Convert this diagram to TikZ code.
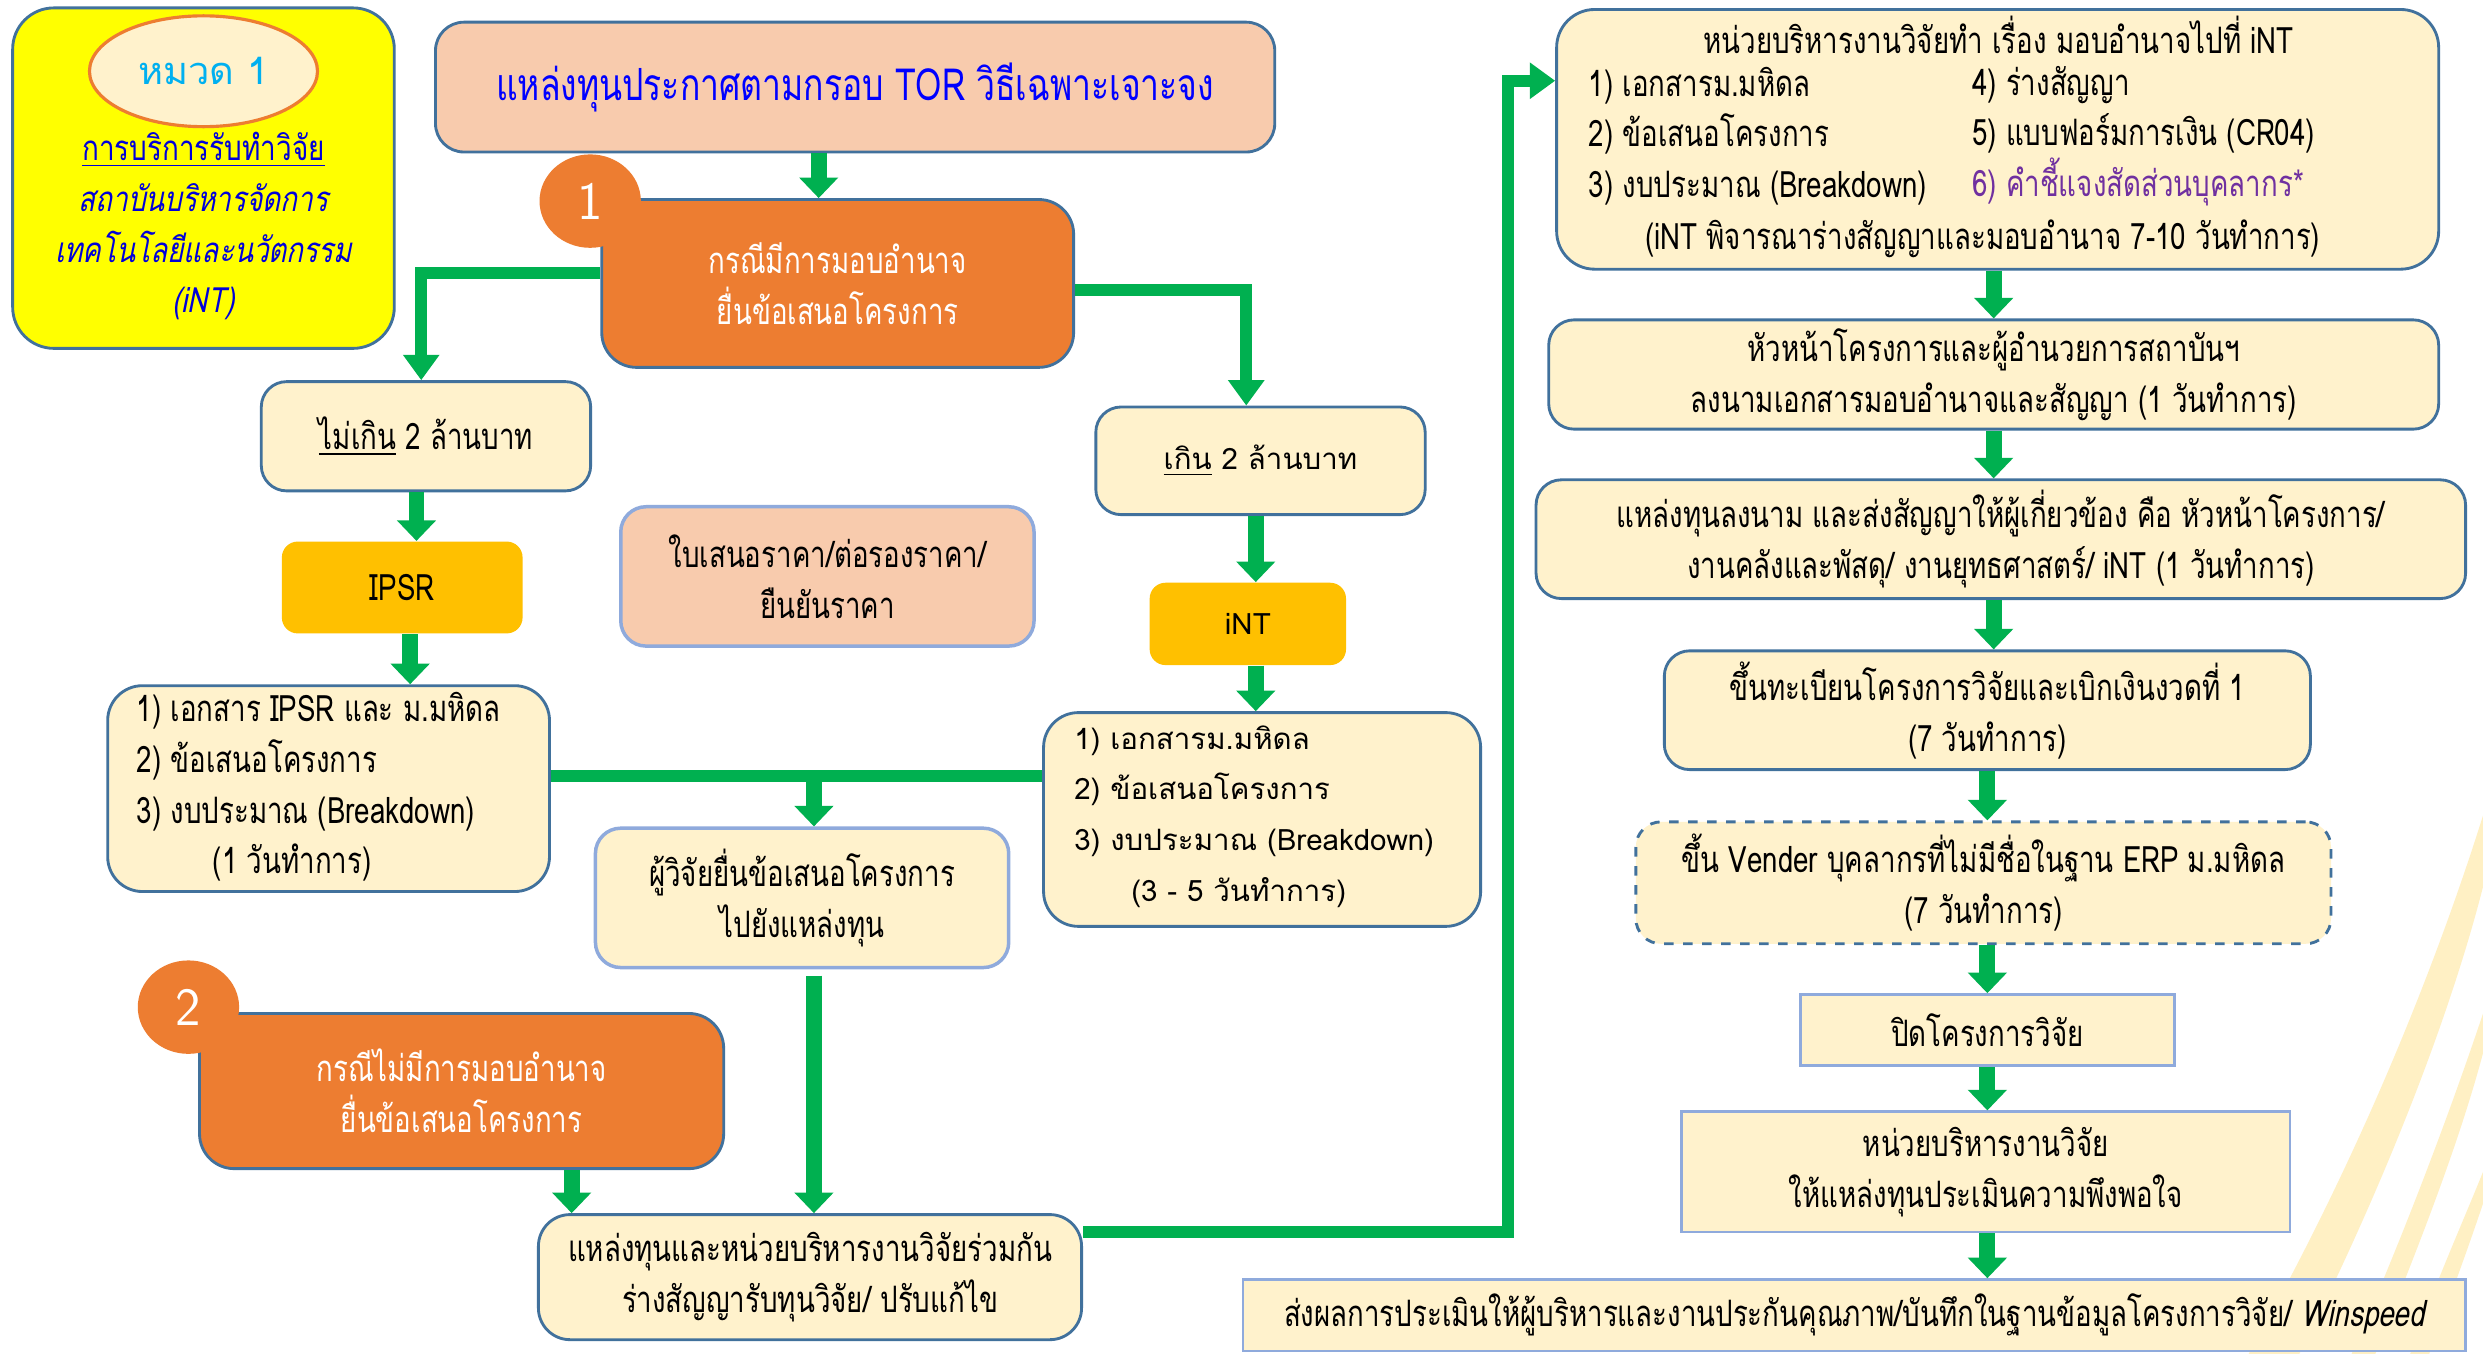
\documentclass[tikz,border=0pt]{standalone}
\usepackage{fontspec}
\setmainfont[Script=Thai]{Loma}
\newfontfamily\thaicn[Script=Thai,FakeStretch=0.76]{Loma}
\newfontfamily\thaicnit[Script=Thai,FakeStretch=0.76,FakeSlant=0.2]{Loma}
\newfontfamily\thaiit[Script=Thai,FakeStretch=0.8,FakeSlant=0.2]{Loma}
\newfontfamily\thaicat[Script=Thai,FakeStretch=0.8]{Loma}
\usetikzlibrary{shapes.geometric, arrows.meta, positioning, calc}

\definecolor{cream}{HTML}{FFF2CC}
\definecolor{peach}{HTML}{F8CBAD}
\definecolor{edge}{HTML}{41719C}
\definecolor{softedge}{HTML}{8FAADC}
\definecolor{caseorange}{HTML}{ED7D31}
\definecolor{gold}{HTML}{FFC000}
\definecolor{flowgreen}{HTML}{00B050}
\definecolor{catyellow}{HTML}{FFFF00}
\definecolor{catcyan}{HTML}{00B0F0}
\definecolor{titleblue}{HTML}{0000FF}
\definecolor{noteviolet}{HTML}{7030A0}
\definecolor{deco}{HTML}{FFF0C4}

\tikzset{
  txt/.style={font=\thaicn\fontsize{11.5}{16}\selectfont},
  wide/.style={font=\fontsize{9.3}{16}\selectfont},
  card/.style={draw=edge, line width=0.9pt, fill=cream, rounded corners=8pt,
    align=center, inner sep=0pt, txt},
  softcard/.style={card, draw=softedge, line width=1.1pt},
  plaincard/.style={draw=softedge, line width=0.8pt, fill=cream, align=center,
    inner sep=0pt, txt},
  casebox/.style={card, fill=caseorange, text=white, rounded corners=11pt},
  casenum/.style={ellipse, fill=caseorange, text=white, inner sep=0pt,
    minimum width=32pt, minimum height=29.5pt,
    font=\sffamily\fontsize{17}{17}\selectfont},
  unitbox/.style={fill=gold, rounded corners=5pt, align=center, inner sep=0pt},
  flow/.style={draw=flowgreen, line width=5pt, -{Triangle[width=12pt,length=6.5pt]}},
  link/.style={draw=flowgreen, line width=3.8pt, -{Triangle[width=11pt,length=8pt]}}
}

\begin{document}
\begin{tikzpicture}[x=0.5pt,y=-0.5pt]
\useasboundingbox (0,0) rectangle (1568,855);
\fill[white] (0,0) rectangle (1568,855);
% Background stripes
\fill[deco] (1420,855) .. controls (1485,740) and (1535,620) .. (1568,515)
  -- (1568,560) .. controls (1545,650) and (1500,760) .. (1452,855) -- cycle;
\fill[deco] (1485,855) .. controls (1518,780) and (1548,700) .. (1568,640)
  -- (1568,665) .. controls (1552,725) and (1526,790) .. (1500,855) -- cycle;
\fill[deco] (1522,855) .. controls (1538,810) and (1556,770) .. (1568,740)
  -- (1568,760) .. controls (1558,790) and (1545,825) .. (1534,855) -- cycle;

% Category card
\node[card, fill=catyellow, rounded corners=13pt, minimum width=120.5pt, minimum height=107.5pt] (cat) at (128.5,112.5) {};
\node[ellipse, draw=caseorange, line width=1pt, fill=cream, minimum width=72pt, minimum height=35pt,
  text=catcyan, font=\fontsize{12}{16}\selectfont] (catlbl) at (128.5,45) {หมวด 1};
\node[align=center, text=titleblue!85!black, font=\thaicat\fontsize{11}{16}\selectfont] (cattxt) at (128.5,143)
  {\underline{การบริการรับทำวิจัย}\\ {\thaiit สถาบันบริหารจัดการ}\\ {\thaiit เทคโนโลยีและนวัตกรรม}\\ {\thaiit (iNT)}};

% Left half
\node[card, fill=peach, rounded corners=9pt, minimum width=265pt, minimum height=41pt, text=titleblue,
  font=\thaicn\fontsize{14}{16}\selectfont] (src) at (540,55) {แหล่งทุนประกาศตามกรอบ TOR วิธีเฉพาะเจาะจง};
\node[casebox, minimum width=149pt, minimum height=53pt] (case1) at (529,179) {กรณีมีการมอบอำนาจ\\ยื่นข้อเสนอโครงการ};
\node[casenum] (c1) at (372.7,127) {1};

\node[card, minimum width=104pt, minimum height=34.5pt] (below) at (269,275.5) {\underline{ไม่เกิน} 2 ล้านบาท};
\node[unitbox, minimum width=76pt, minimum height=29pt, txt] (ipsr) at (254,371) {IPSR};
\node[card, rounded corners=11pt, minimum width=139.5pt, minimum height=65pt] (ipsrdoc) at (207.5,498) {};
\node[txt, anchor=west, align=left, inner sep=0pt] (ipsrtxt) at (86,497)
  {1) เอกสาร IPSR และ ม.มหิดล\\2) ข้อเสนอโครงการ\\3) งบประมาณ (Breakdown)\\\hspace*{24pt}(1 วันทำการ)};

\node[softcard, fill=peach, minimum width=130.5pt, minimum height=44pt] (quote) at (522.5,364) {ใบเสนอราคา/ต่อรองราคา/\\ยืนยันราคา};

\node[card, wide, minimum width=104pt, minimum height=34pt] (above) at (796,291) {\underline{เกิน} 2 ล้านบาท};
\node[unitbox, wide, minimum width=62pt, minimum height=26pt] (int) at (788,394) {iNT};
\node[card, rounded corners=11pt, minimum width=138pt, minimum height=67.5pt] (intdoc) at (797,517.5) {};
\node[wide, anchor=west, align=left, inner sep=0pt] (inttxt) at (678,515.5)
  {1) เอกสารม.มหิดล\\2) ข้อเสนอโครงการ\\3) งบประมาณ (Breakdown)\\\hspace*{18pt}(3 - 5 วันทำการ)};

\node[softcard, minimum width=130.5pt, minimum height=44pt] (submit) at (506.5,567) {ผู้วิจัยยื่นข้อเสนอโครงการ\\ไปยังแหล่งทุน};

\node[casebox, minimum width=165.5pt, minimum height=49pt] (case2) at (291.5,689) {กรณีไม่มีการมอบอำนาจ\\ยื่นข้อเสนอโครงการ};
\node[casenum] (c2) at (119,636) {2};
\node[card, rounded corners=10pt, minimum width=171.5pt, minimum height=39.5pt] (joint) at (511.5,806.5) {แหล่งทุนและหน่วยบริหารงานวิจัยร่วมกัน\\ร่างสัญญารับทุนวิจัย/ ปรับแก้ไข};

% Right column
\node[card, rounded corners=12pt, minimum width=278.5pt, minimum height=82pt] (auth) at (1261.5,88) {};
\node[txt] (authhead) at (1262,22) {หน่วยบริหารงานวิจัยทำ เรื่อง มอบอำนาจไปที่ iNT};
\node[txt, anchor=west, align=left, inner sep=0pt] (authl) at (1003,86) {1) เอกสารม.มหิดล\\2) ข้อเสนอโครงการ\\3) งบประมาณ (Breakdown)};
\node[txt, anchor=west, align=left, inner sep=0pt] (authr) at (1245,86) {4) ร่างสัญญา\\5) แบบฟอร์มการเงิน (CR04)\\\textcolor{noteviolet}{6) คำชี้แจงสัดส่วนบุคลากร*}};
\node[txt] (authfoot) at (1252,151) {(iNT พิจารณาร่างสัญญาและมอบอำนาจ 7-10 วันทำการ)};

\node[card, minimum width=281pt, minimum height=34.5pt] (sign) at (1259,236.5) {หัวหน้าโครงการและผู้อำนวยการสถาบันฯ\\ลงนามเอกสารมอบอำนาจและสัญญา (1 วันทำการ)};
\node[card, minimum width=293.5pt, minimum height=37.5pt] (send) at (1263.5,340.5) {แหล่งทุนลงนาม และส่งสัญญาให้ผู้เกี่ยวข้อง คือ หัวหน้าโครงการ/\\งานคลังและพัสดุ/ งานยุทธศาสตร์/ iNT (1 วันทำการ)};
\node[card, minimum width=204pt, minimum height=37.5pt] (reg) at (1255,448.5) {ขึ้นทะเบียนโครงการวิจัยและเบิกเงินงวดที่ 1\\(7 วันทำการ)};
\node[card, dashed, minimum width=219.5pt, minimum height=38.5pt] (vendor) at (1252.5,557.5) {ขึ้น Vender บุคลากรที่ไม่มีชื่อในฐาน ERP ม.มหิดล\\(7 วันทำการ)};
\node[plaincard, minimum width=118pt, minimum height=22.5pt] (close) at (1255,650.5) {ปิดโครงการวิจัย};
\node[plaincard, minimum width=192pt, minimum height=38pt] (survey) at (1254,740) {หน่วยบริหารงานวิจัย\\ให้แหล่งทุนประเมินความพึงพอใจ};
\node[plaincard, minimum width=386pt, minimum height=22.5pt] (report) at (1171,830.5) {ส่งผลการประเมินให้ผู้บริหารและงานประกันคุณภาพ/บันทึกในฐานข้อมูลโครงการวิจัย/ {\thaicnit Winspeed}};

% Connections
\draw[flow] ([xshift=-11.5pt]src.south) -- ([xshift=-6pt]case1.north);
\draw[link] ([yshift=3.25pt]case1.west) -| ([xshift=-1.5pt]below.north);
\draw[link] ([yshift=-2pt]case1.east) -| ([xshift=-4.5pt]above.north);
\draw[flow] ([xshift=-3pt]below.south) -- ([xshift=-3pt]below.south |- ipsr.north);
\draw[flow] ([xshift=2.5pt]ipsr.south) -- ([xshift=2.5pt]ipsr.south |- ipsrdoc.north);
\draw[flow] ([xshift=-1.5pt]above.south) -- ([xshift=-1.5pt]above.south |- int.north);
\draw[flow] ([xshift=2.5pt]int.south) -- ([xshift=2.5pt]int.south |- intdoc.north);
\draw[draw=flowgreen, line width=3.8pt] ([yshift=4pt]ipsrdoc.east) -- ([yshift=4pt]ipsrdoc.east -| intdoc.west);
\coordinate (jn) at ([yshift=4pt,xshift=3.75pt]ipsrdoc.east -| submit.north);
\draw[flow] (jn) -- ([xshift=3.75pt]submit.north);
\draw[flow] ([xshift=3.75pt,yshift=-2pt]submit.south) -- ([xshift=3.75pt]submit.south |- joint.north);
\draw[flow] ([xshift=34.75pt]case2.south) -- ([xshift=34.75pt]case2.south |- joint.north);
\draw[link] ([yshift=14.25pt]joint.east) -- ++(268.6,0) |- ([yshift=18.5pt]auth.west);
\draw[flow] (auth.south -| sign.north) -- (sign.north);
\draw[flow] (sign.south) -- (sign.south |- send.north);
\draw[flow] (send.south -| sign.south) -- (sign.south |- reg.north);
\draw[flow] (reg.south) -- (reg.south |- vendor.north);
\draw[flow] (vendor.south -| reg.south) -- (close.north);
\draw[flow] (close.south) -- (close.south |- survey.north);
\draw[flow] (survey.south -| close.south) -- (close.south |- report.north);
\end{tikzpicture}
\end{document}
